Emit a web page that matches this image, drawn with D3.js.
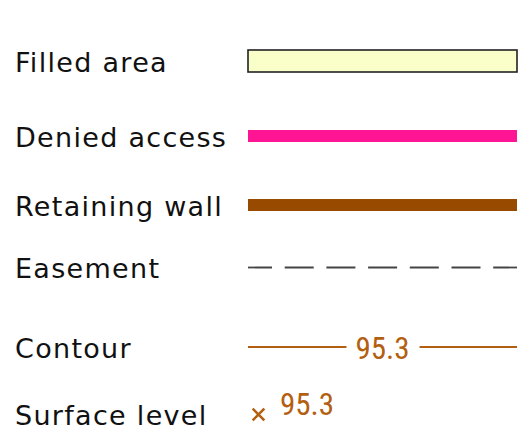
<!DOCTYPE html>
<html>
<head>
<meta charset="utf-8">
<script src="https://cdn.jsdelivr.net/npm/d3@7"></script>
<style>
  body { margin: 0; background: #fff; }
  svg { display: block; }
</style>
</head>
<body>
<svg id="legend"></svg>
<script>
// Legend entries
const labels = ['Filled area', 'Denied access', 'Retaining wall', 'Easement', 'Contour', 'Surface level'];
const kinds = ['area', 'denied', 'wall', 'easement', 'contour', 'level'];
const levelLabels = ['95.3', '95.3'];   // contour label, surface level label

const width = 518, height = 430;
const symX0 = 248, symX1 = 517;

// vertical spacing of the rows (centre of each symbol)
const rowGap = {area: 0, denied: 75, wall: 69, easement: 62.5, contour: 79.5, level: 67.5};
const rows = labels.map((l, i) => ({label: l, kind: kinds[i]}));
let acc = 61;
rows.forEach(d => { acc += rowGap[d.kind]; d.cy = acc; });

const svg = d3.select('#legend')
    .attr('width', width)
    .attr('height', height);

const x = d3.scaleLinear().domain([0, 1]).range([symX0, symX1]);
const brown = '#b35f12';

// Labels
svg.selectAll('.label')
    .data(rows)
  .join('text')
    .attr('class', 'label')
    .attr('x', 15)
    .attr('y', d => d.cy + 10.5)
    .attr('font-family', 'DejaVu Sans')
    .attr('font-size', '27px')
    .attr('letter-spacing', '1.3px')
    .attr('fill', '#111')
    .text(d => d.label);

const g = svg.selectAll('.sym')
    .data(rows)
  .join('g')
    .attr('class', 'sym')
    .attr('transform', d => `translate(0,${d.cy})`);

g.filter(d => d.kind === 'area').append('rect')
    .attr('x', x(0))
    .attr('y', -11)
    .attr('width', x(1) - x(0))
    .attr('height', 22)
    .attr('fill', '#fafec8')
    .attr('stroke', '#222')
    .attr('stroke-width', 1.6);

g.filter(d => d.kind === 'denied').append('line')
    .attr('x1', x(0)).attr('x2', x(1))
    .attr('stroke', '#ff1493')
    .attr('stroke-width', 12);

g.filter(d => d.kind === 'wall').append('line')
    .attr('x1', x(0)).attr('x2', x(1))
    .attr('stroke', '#984b00')
    .attr('stroke-width', 12);

g.filter(d => d.kind === 'easement').append('line')
    .attr('x1', x(0)).attr('x2', x(1))
    .attr('stroke', '#444')
    .attr('stroke-width', 1.8)
    .attr('stroke-dasharray', '29,12.7')
    .attr('stroke-dashoffset', 5);

// Contour: line broken by its label
const contour = g.filter(d => d.kind === 'contour');
const cText = contour.append('text')
    .attr('x', x(0.5))
    .attr('y', 11.5)
    .attr('text-anchor', 'middle')
    .attr('font-family', 'Liberation Sans Narrow, Roboto Condensed, Arial Narrow, sans-serif')
    .attr('font-size', '31px')
    .attr('fill', brown)
    .text(levelLabels[0]);
const tw = cText.node().getComputedTextLength();
contour.selectAll('line')
    .data([[x(0), x(0.5) - tw / 2 - 9], [x(0.5) + tw / 2 + 10, x(1)]])
  .join('line')
    .attr('x1', d => d[0])
    .attr('x2', d => d[1])
    .attr('stroke', brown)
    .attr('stroke-width', 2);

// Surface level: cross + label
const level = g.filter(d => d.kind === 'level');
level.append('path')
    .attr('d', d3.symbol(d3.symbolX, 90)())
    .attr('transform', `translate(${symX0 + 10.5},0)`)
    .attr('stroke', brown)
    .attr('stroke-width', 2.6)
    .attr('fill', 'none');
level.append('text')
    .attr('x', symX0 + 32)
    .attr('y', 0)
    .attr('font-family', 'Liberation Sans Narrow, Roboto Condensed, Arial Narrow, sans-serif')
    .attr('font-size', '31px')
    .attr('fill', brown)
    .text(levelLabels[1]);
</script>
</body>
</html>
